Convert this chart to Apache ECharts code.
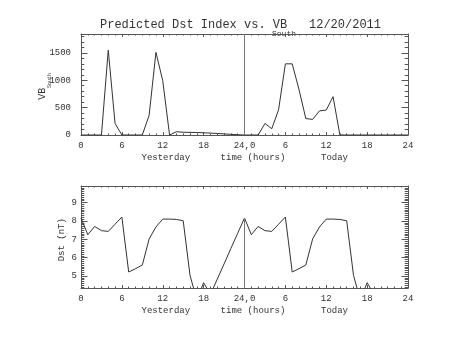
<!DOCTYPE html>
<html><head><meta charset="utf-8">
<script src="https://cdn.jsdelivr.net/npm/echarts@6/dist/echarts.min.js"></script>
<style>html,body{margin:0;padding:0;background:#fff}#c{width:453px;height:340px}</style>
</head><body><div id="c"></div>
<script>
// ---- data ----
const vbHours = [0,1,2,3,4,5,6,7,8,9,10,11,12,13,14,15,16,17,18,19,20,21,22,23,24,
                 25,26,27,28,29,30,31,32,33,34,35,36,37,38,39,40,41,42,43,44,45,46,47,48];
const vbSouth = [0,0,0,0,1550,210,0,0,0,0,360,1510,990,0,60,50,48,45,40,35,28,20,12,5,0,
                 0,0,210,115,460,1300,1300,830,300,285,440,455,700,0,0,0,0,0,0,0,0,0,0,0];
const dstHours = [0,1,2,3,4,5,6,7,8,9,10,11,12,13,14,15,16,17,18,19,20,21,22,23,24,
                  25,26,27,28,29,30,31,32,33,34,35,36,37,38,39,40,41,42,43];
const dst = [8.16,7.25,7.70,7.47,7.43,7.82,8.21,5.22,5.40,5.60,7.02,7.67,8.10,8.10,8.08,8.01,5.04,3.70,4.64,4.00,4.83,5.66,6.50,7.33,8.16,
             7.25,7.70,7.47,7.43,7.82,8.21,5.22,5.40,5.60,7.02,7.67,8.10,8.10,8.08,8.01,5.04,3.70,4.64,4.00];
const xTickValues = [0,6,12,18,24,30,36,42,48];
const xTickLabels = ['0','6','12','18','24,0','6','12','18','24'];
const vbTicks = [0,500,1000,1500];
const vbMinorTicks = [100,200,300,400,600,700,800,900,1100,1200,1300,1400,1600,1700,1800];
const dstTicks = [5,6,7,8,9];
const dayMarker = 24;
const vbRange = [0,1845];
const dstRange = [4.35,9.9];

const dstMinorTicks = [];
for (let i = 44; i <= 99; i++) dstMinorTicks.push(i/10);

// ---- style ----
const FONT = 'Liberation Mono';
const TXT = '#333';
const AX = '#555';

function xAxes(g){
  const base = {type:'value', gridIndex:g, min:0, max:48, interval:6,
    splitLine:{show:false}, minorSplitLine:{show:false},
    axisLine:{show:true, onZero:false, lineStyle:{color:AX,width:1}},
    axisTick:{show:true, inside:true, length:3, lineStyle:{color:AX,width:1}},
    minorTick:{show:true, splitNumber:6, length:1.5, lineStyle:{color:AX,width:1}}};
  return [
    Object.assign({}, base, {position:'bottom',
      axisLabel:{show:true, margin:6, color:TXT, fontFamily:FONT, fontSize:9,
        formatter:v=>{const i=xTickValues.indexOf(v);return i>=0?xTickLabels[i]:'';}}}),
    Object.assign({}, base, {position:'top', axisLabel:{show:false}})
  ];
}
function yAxes(g, range, major, minor, majLen, minLen, margin){
  const mk = (pos, ticks, len, lab, line) => ({type:'value', gridIndex:g, position:pos,
    min:range[0], max:range[1], splitLine:{show:false},
    axisLine:{show:line, onZero:false, lineStyle:{color:AX,width:1}},
    axisTick:{show:true, inside:true, length:len, customValues:ticks, lineStyle:{color:AX,width:1}},
    axisLabel:lab ? {show:true, customValues:major, margin:margin, color:TXT, fontFamily:FONT, fontSize:9,
                     formatter:v=>String(v)} : {show:false}
  });
  return [mk('left',major,majLen,true,true), mk('left',minor,minLen,false,false),
          mk('right',major,majLen,false,true), mk('right',minor,minLen,false,false)];
}

const vbData = vbHours.map((h,i)=>[h, vbSouth[i]]);
const dstData = dstHours.map((h,i)=>[h, dst[i]]);
const dstAtMarker = dst[dstHours.indexOf(dayMarker)];

const txt = (text, x, y, size, extra, align) => Object.assign({type:'text', x:x, y:y,
  style:{text:text, font:size+'px "'+FONT+'"', fill:TXT, textAlign:align||'center', textVerticalAlign:'middle'}}, extra||{});

const option = {
  animation:false,
  backgroundColor:'#fff',
  grid:[{left:81, top:34, width:327, height:101},
        {left:81, top:186, width:327, height:102}],
  xAxis:[...xAxes(0), ...xAxes(1)],
  yAxis:[...yAxes(0, vbRange, vbTicks, vbMinorTicks, 6.5, 3.3, 10),
         ...yAxes(1, dstRange, dstTicks, dstMinorTicks, 6.5, 3.3, 4)],
  series:[
    {type:'line', xAxisIndex:0, yAxisIndex:0, data:vbData, symbol:'none',
     lineStyle:{color:'#333', width:1}, clip:true,
     markLine:{silent:true, symbol:'none', label:{show:false}, animation:false,
       lineStyle:{color:'#777', width:1, type:'solid'},
       data:[[{coord:[dayMarker, vbRange[0]]},{coord:[dayMarker, vbRange[1]]}]]}},
    {type:'line', xAxisIndex:2, yAxisIndex:4, data:dstData, symbol:'none',
     lineStyle:{color:'#333', width:1}, clip:true,
     markLine:{silent:true, symbol:'none', label:{show:false}, animation:false,
       lineStyle:{color:'#777', width:1, type:'solid'},
       data:[[{coord:[dayMarker, dstRange[0]]},{coord:[dayMarker, dstAtMarker]}]]}}
  ],
  graphic:[
    txt('Predicted Dst Index vs. VB', 100, 25, 12, null, 'left'),
    txt('South', 272, 33.5, 8, null, 'left'),
    txt('12/20/2011', 309, 25, 12, null, 'left'),
    txt('VB', 42.5, 93.7, 10, {rotation:Math.PI/2}),
    txt('South', 49.5, 80.5, 5, {rotation:Math.PI/2}),
    txt('Yesterday', 165.8, 157.3, 9),
    txt('time (hours)', 253, 157.3, 9),
    txt('Today', 334.5, 157.3, 9),
    txt('Yesterday', 165.8, 310.7, 9),
    txt('time (hours)', 253, 310.7, 9),
    txt('Today', 334.5, 310.7, 9),
    txt('Dst (nT)', 61.7, 239.7, 9, {rotation:Math.PI/2})
  ]
};
echarts.init(document.getElementById('c'), null, {renderer:'canvas'}).setOption(option);
</script>
</body></html>
